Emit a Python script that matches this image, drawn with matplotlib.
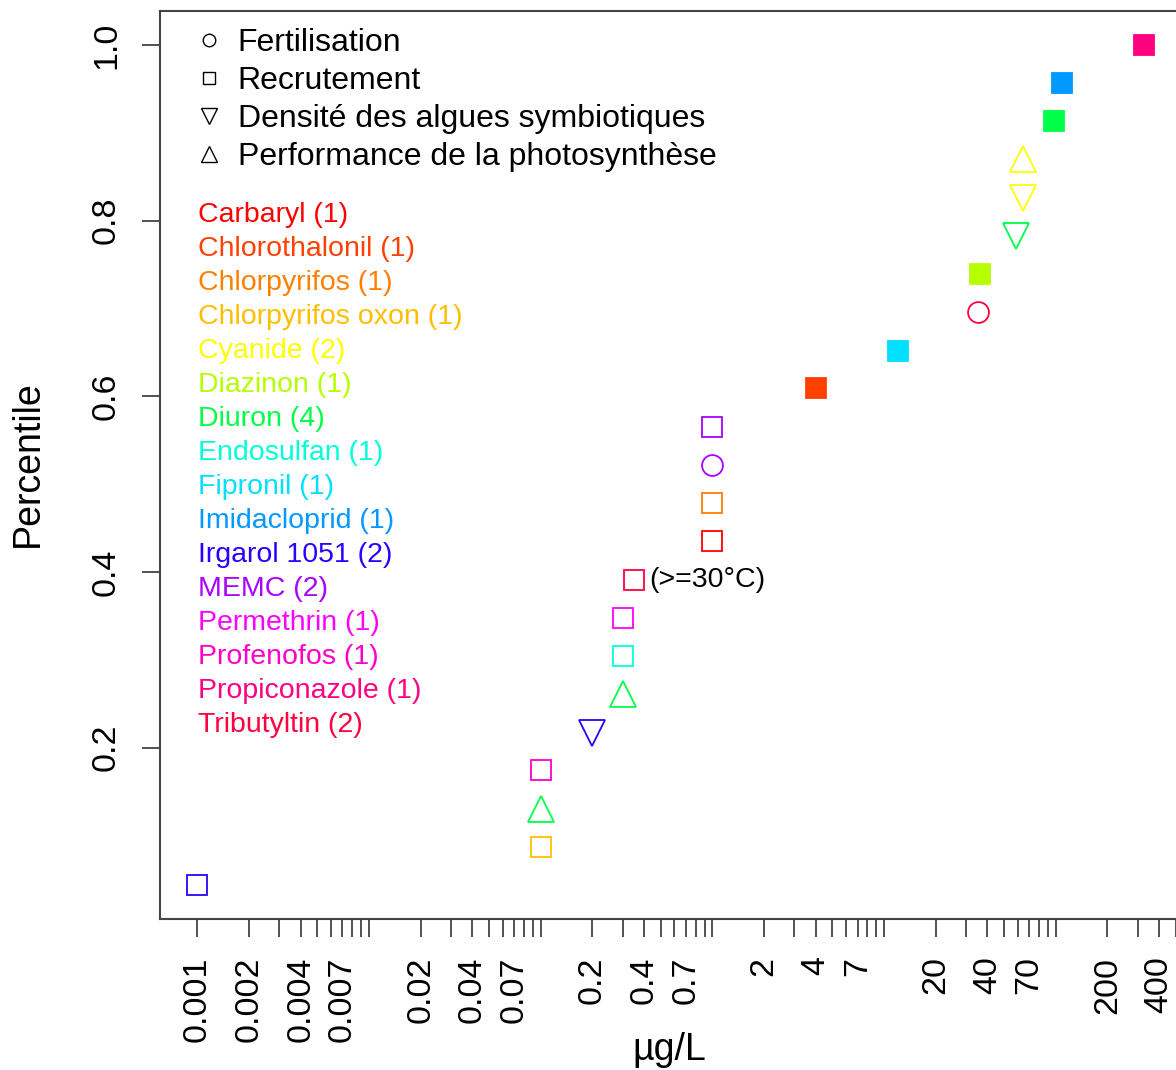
# SSD plot: percentile vs concentration (ug/L), log x axis
import numpy as np
import matplotlib
matplotlib.use("Agg")
import matplotlib.pyplot as plt
from matplotlib.lines import Line2D

plt.rcParams['font.family'] = ['Liberation Sans', 'DejaVu Sans']

chemicals = ['Carbaryl', 'Chlorothalonil', 'Chlorpyrifos', 'Chlorpyrifos oxon', 'Cyanide',
             'Diazinon', 'Diuron', 'Endosulfan', 'Fipronil', 'Imidacloprid', 'Irgarol 1051',
             'MEMC', 'Permethrin', 'Profenofos', 'Propiconazole', 'Tributyltin']
chem_colors = ['#FF0000', '#FF4000', '#FF8000', '#FFBF00', '#FFFF00',
               '#B5FF00', '#00FF48', '#00FFDA', '#00E0FF', '#0099FF', '#2A00FF',
               '#AA00FF', '#FF00FF', '#FF00C8', '#FF0080', '#FF0040']

endpoints = ['Fertilisation', 'Recrutement', 'Densité des algues symbiotiques',
             'Performance de la photosynthèse']
endpoint_markers = ['o', 's', 'v', '^']

# one row per species / endpoint value
conc = [0.001, 0.1, 0.1, 0.1, 0.2, 0.3, 0.3, 0.3, 0.35, 1.0, 1.0, 1.0, 1.0,
        4.0, 12, 35, 36, 59, 64, 64, 98, 109, 327]
percentile = [0.043, 0.087, 0.130, 0.174, 0.217, 0.261, 0.304, 0.348, 0.391, 0.435,
              0.478, 0.522, 0.565, 0.609, 0.652, 0.696, 0.739, 0.783, 0.826, 0.870,
              0.913, 0.957, 1.0]
chem = ['Irgarol 1051', 'Chlorpyrifos oxon', 'Diuron', 'Profenofos', 'Irgarol 1051',
        'Diuron', 'Endosulfan', 'Permethrin', 'Tributyltin', 'Carbaryl', 'Chlorpyrifos',
        'MEMC', 'MEMC', 'Chlorothalonil', 'Fipronil', 'Tributyltin', 'Diazinon',
        'Diuron', 'Cyanide', 'Cyanide', 'Diuron', 'Imidacloprid', 'Propiconazole']
endpoint = [1, 1, 3, 1, 2, 3, 1, 1, 1, 1, 1, 0, 1, 1, 1, 0, 1, 2, 2, 3, 1, 1, 1]
filled = [0, 0, 0, 0, 0, 0, 0, 0, 0, 0, 0, 0, 0, 1, 1, 0, 1, 0, 0, 0, 1, 1, 1]

xticks = [m * 10.0 ** k for k in range(-3, 3) for m in range(1, 10)]
xlabeled = [0.001, 0.002, 0.004, 0.007, 0.02, 0.04, 0.07, 0.2, 0.4, 0.7,
            2, 4, 7, 20, 40, 70, 200, 400]

W, H = 1176, 1070
def fx(p):
    return p / W
def fy(p):
    return 1 - p / H

fig = plt.figure(figsize=(W / 100, H / 100), dpi=100)
ax = fig.add_axes([fx(159.5), fy(919), (1182 - 159.5) / W, (919 - 11.4) / H])

color_of = dict(zip(chemicals, chem_colors))
sizes = {'o': 15, 's': 14.5, 'v': 19, '^': 19}
for x, y, c, e, f in zip(conc, percentile, chem, endpoint, filled):
    m = endpoint_markers[e]
    col = color_of[c]
    ax.plot([x], [y], ls='none', marker=m, ms=sizes[m], mew=1.3,
            mec=col, mfc=col if f else 'none')

ax.annotate('(>=30°C)', xy=(conc[8], percentile[8]), xytext=(11, 0),
            textcoords='offset points', va='center', ha='left', fontsize=20.5)

# R-like axis ranges (4% padding)
lo, hi = np.log10(min(conc)), np.log10(max(conc))
pad = 0.04 * (hi - lo)
ax.set_xscale('log')
ax.set_xlim(10 ** (lo - pad), 10 ** (hi + pad))
ylo, yhi = min(percentile), max(percentile)
ypad = 0.04 * (yhi - ylo)
ax.set_ylim(ylo - ypad, yhi + ypad)

ax.xaxis.set_major_locator(matplotlib.ticker.FixedLocator(xticks))
ax.xaxis.set_minor_locator(matplotlib.ticker.NullLocator())
ax.set_xticklabels([('%g' % t if any(abs(t - l) < 1e-9 * l for l in xlabeled) else '')
                    for t in xticks], rotation=90)
ax.set_yticks([0.2, 0.4, 0.6, 0.8, 1.0])
ax.set_yticklabels(['0.2', '0.4', '0.6', '0.8', '1.0'], rotation=90, va='center')
ax.tick_params(axis='both', length=13, width=1.2, color='#333', labelsize=24.5, pad=14)

for s in ['left', 'bottom', 'top', 'right']:
    ax.spines[s].set_color('#444')
    ax.spines[s].set_linewidth(1.5)

fig.text(fx(669), fy(1050), 'µg/L', ha='center', va='center', fontsize=27)
fig.text(fx(28), fy(464), 'Percentile', ha='center', va='center', rotation=90, fontsize=27)

# shape legend
handles = [Line2D([], [], ls='none', marker=m, mfc='none', mec='black', mew=1.0,
                  ms=(11 if m in 'v^' else 9)) for m in endpoint_markers]
ax.legend(handles, endpoints, loc='upper left', bbox_to_anchor=(fx(196), fy(28)),
          bbox_transform=fig.transFigure, frameon=False, fontsize=23,
          handlelength=0.8, handletextpad=0.5, labelspacing=0.25,
          borderpad=0, borderaxespad=0)

# chemical list with counts
for i, (name, col) in enumerate(zip(chemicals, chem_colors)):
    fig.text(fx(198), fy(215 + 34 * i), '%s (%d)' % (name, chem.count(name)),
             color=col, fontsize=20.5, ha='left', va='center')

fig.savefig('out.png', dpi=100)
